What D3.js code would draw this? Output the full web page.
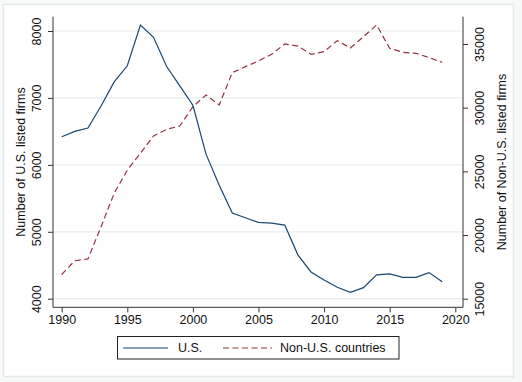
<!DOCTYPE html>
<html><head><meta charset="utf-8">
<script src="https://cdn.jsdelivr.net/npm/d3@7"></script>
<style>
html,body{margin:0;padding:0;background:#f7f9f9;}
svg{display:block;font-family:"Liberation Sans",Arial,Helvetica,sans-serif;}
</style></head>
<body>
<svg id="chart" width="522" height="382"></svg>
<script>
const years = d3.range(1990, 2020);
const usFirms = [6420,6500,6550,6880,7240,7480,8090,7905,7470,7180,6890,6160,5700,5280,5210,5140,5130,5100,4655,4400,4280,4170,4095,4165,4355,4370,4320,4320,4390,4255];
const nonUsFirms = [16900,17980,18120,20650,23280,25100,26420,27780,28300,28560,30080,31000,30210,32750,33220,33670,34190,35000,34840,34190,34400,35260,34690,35570,36490,34660,34350,34270,33930,33560];
const xTicks = [1990,1995,2000,2005,2010,2015,2020];
const leftTicks = [4000,5000,6000,7000,8000];
const rightTicks = [15000,20000,25000,30000,35000];
const seriesNames = ["U.S.","Non-U.S. countries"];
const leftTitle = "Number of U.S. listed firms";
const rightTitle = "Number of Non-U.S. listed firms";

(function(){
const svg = d3.select("#chart");
const usColor = "#1a476f", nonColor = "#90353b";
const axisColor = "#333";

// outer frame
svg.append("rect").attr("x",3.5).attr("y",4.5).attr("width",510).attr("height",372)
  .attr("fill","#ffffff").attr("stroke","#e3eaec").attr("stroke-width",1.5);

const x = d3.scaleLinear().domain([1990,2020]).range([61.7,455.3]);
const yL = d3.scaleLinear().domain([4000,8000]).range([298.7,31]);
const yR = d3.scaleLinear().domain([15000,35000]).range([298.7,44]);

const pLeft = 53, pRight = 463, pBottom = 307.3, pTop = 16.7;

// gridlines
svg.append("g").selectAll("line").data(leftTicks).join("line")
  .attr("x1",pLeft).attr("x2",pRight)
  .attr("y1",d=>yL(d)).attr("y2",d=>yL(d))
  .attr("stroke","#e6edef").attr("stroke-width",1.2);

// axis lines
svg.append("line").attr("x1",pLeft).attr("x2",pLeft).attr("y1",pTop).attr("y2",pBottom).attr("stroke",axisColor).attr("stroke-width",1);
svg.append("line").attr("x1",pRight).attr("x2",pRight).attr("y1",pTop).attr("y2",pBottom).attr("stroke",axisColor).attr("stroke-width",1);
svg.append("line").attr("x1",pLeft).attr("x2",pRight).attr("y1",pBottom).attr("y2",pBottom).attr("stroke",axisColor).attr("stroke-width",1);

// x axis
const gx = svg.append("g").attr("transform",`translate(0,${pBottom})`)
  .call(d3.axisBottom(x).tickValues(xTicks).tickFormat(d3.format("d")).tickSize(5).tickPadding(3));
gx.select(".domain").remove();
gx.selectAll("line").attr("stroke",axisColor);
gx.selectAll("text").attr("font-size",12.5).attr("fill","#111").attr("font-family","Liberation Sans, Arial, sans-serif");

// left axis
const gl = svg.append("g").attr("transform",`translate(${pLeft},0)`)
  .call(d3.axisLeft(yL).tickValues(leftTicks).tickFormat(d3.format("d")).tickSize(5));
gl.select(".domain").remove();
gl.selectAll("line").attr("stroke",axisColor);
gl.selectAll("text").attr("font-size",12.5).attr("fill","#111").attr("font-family","Liberation Sans, Arial, sans-serif")
  .attr("text-anchor","middle").attr("dy",0).attr("x",0)
  .attr("transform","translate(-12,0) rotate(-90)");

// right axis
const gr = svg.append("g").attr("transform",`translate(${pRight},0)`)
  .call(d3.axisRight(yR).tickValues(rightTicks).tickFormat(d3.format("d")).tickSize(5));
gr.select(".domain").remove();
gr.selectAll("line").attr("stroke",axisColor);
gr.selectAll("text").attr("font-size",12.5).attr("fill","#111").attr("font-family","Liberation Sans, Arial, sans-serif")
  .attr("text-anchor","middle").attr("dy",0).attr("x",0)
  .attr("transform","translate(20.5,0) rotate(-90)");

// axis titles
svg.append("text").attr("transform",`translate(21,162) rotate(-90)`)
  .attr("text-anchor","middle").attr("dy","0.35em").attr("font-size",12.5).attr("fill","#111").text(leftTitle);
svg.append("text").attr("transform",`translate(502,162) rotate(-90)`)
  .attr("text-anchor","middle").attr("dy","0.35em").attr("font-size",12.5).attr("fill","#111").text(rightTitle);

// lines
const lineL = d3.line().x((d,i)=>x(years[i])).y(d=>yL(d));
const lineR = d3.line().x((d,i)=>x(years[i])).y(d=>yR(d));
svg.append("path").datum(nonUsFirms).attr("d",lineR).attr("fill","none")
  .attr("stroke",nonColor).attr("stroke-width",1.2).attr("stroke-dasharray","6,3.5");
svg.append("path").datum(usFirms).attr("d",lineL).attr("fill","none")
  .attr("stroke",usColor).attr("stroke-width",1.2);

// legend
const lg = svg.append("g");
lg.append("rect").attr("x",117.5).attr("y",336.5).attr("width",281.5).attr("height",22.5)
  .attr("fill","#fff").attr("stroke","#222").attr("stroke-width",1);
lg.append("line").attr("x1",123).attr("x2",168).attr("y1",348).attr("y2",348).attr("stroke",usColor).attr("stroke-width",1.2);
lg.append("text").attr("x",178).attr("y",348).attr("dy","0.35em").attr("font-size",12.5).attr("fill","#111").text(seriesNames[0]);
lg.append("line").attr("x1",223).attr("x2",272).attr("y1",348).attr("y2",348).attr("stroke",nonColor).attr("stroke-width",1.2).attr("stroke-dasharray","6,3.5");
lg.append("text").attr("x",280).attr("y",348).attr("dy","0.35em").attr("font-size",12.5).attr("fill","#111").text(seriesNames[1]);
})();
</script>
</body></html>
